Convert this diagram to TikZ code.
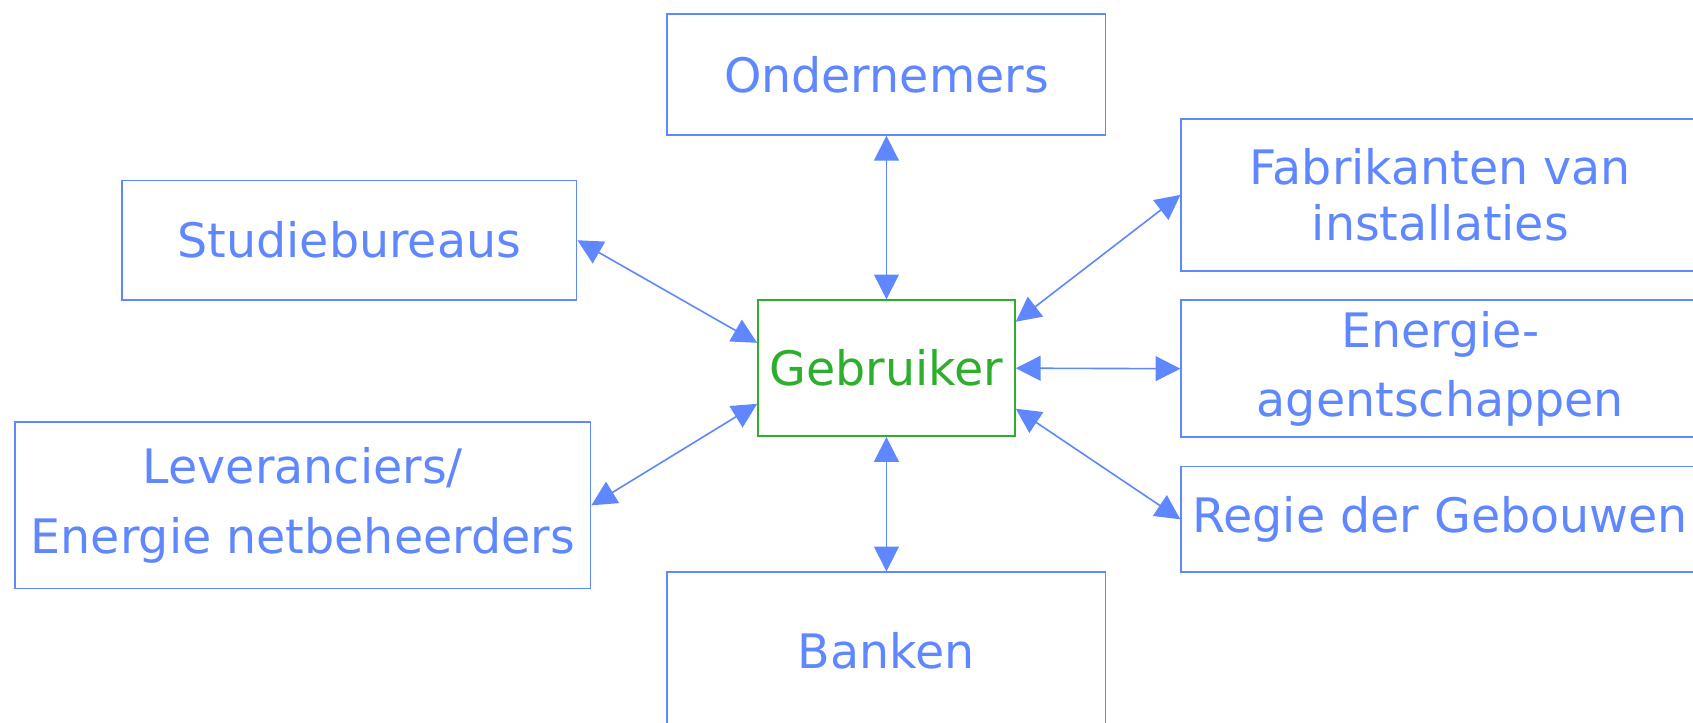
\documentclass[tikz,border=0pt]{standalone}
\usepackage{fontspec}
\setmainfont{DejaVu Sans}
\usepackage{tikz}
\usetikzlibrary{arrows}
\usetikzlibrary{arrows.meta}

\definecolor{boxblue}{RGB}{95,135,255}
\definecolor{usergreen}{RGB}{45,175,45}

\begin{document}
\begin{tikzpicture}[x=1pt,y=-1pt,
  party/.style={draw=boxblue, line width=1.5pt, text=boxblue, align=center, inner sep=0pt,
    font=\fontsize{44}{52}\selectfont},
  link/.style={draw=boxblue, line width=1.5pt,
    {Triangle[length=23pt,width=23pt]}-{Triangle[length=23pt,width=23pt]}}]
\useasboundingbox (0,0) rectangle (1568,669);
\node[party, minimum width=406pt, minimum height=112pt] (ond) at (821,69) {Ondernemers};
\node[party, minimum width=421pt, minimum height=111pt] (stud) at (323.5,222.5) {Studiebureaus};
\node[party, draw=usergreen, text=usergreen, minimum width=238pt, minimum height=126pt] (geb) at (821,341) {Gebruiker};
\node[party, minimum width=480pt, minimum height=141pt, font=\fontsize{44}{52.5}\selectfont] (fab) at (1334,180.5) {Fabrikanten van\\installaties};
\node[party, minimum width=480pt, minimum height=127pt, font=\fontsize{44}{64}\selectfont] (ener) at (1334,341.5) {Energie-\\agentschappen};
\node[party, minimum width=480pt, minimum height=98pt] (regie) at (1334,481) {Regie der Gebouwen};
\node[party, minimum width=533pt, minimum height=154pt, font=\fontsize{44}{65}\selectfont] (lev) at (280.5,468) {Leveranciers/\\Energie netbeheerders};
\node[party, minimum width=406pt, minimum height=146pt] (bank) at (821,603) {Banken};
\draw[link] (ond.south) -- (geb.north);
\draw[link] (geb.south) -- (bank.north);
\draw[link] (stud.east) -- ([yshift=23.5pt]geb.west);
\draw[link] (lev.east) -- ([yshift=-33pt]geb.west);
\draw[link] (fab.west) -- ([yshift=43pt]geb.east);
\draw[link] (ener.west) -- (geb.east);
\draw[link] (regie.west) -- ([yshift=-37.5pt]geb.east);
\end{tikzpicture}
\end{document}
